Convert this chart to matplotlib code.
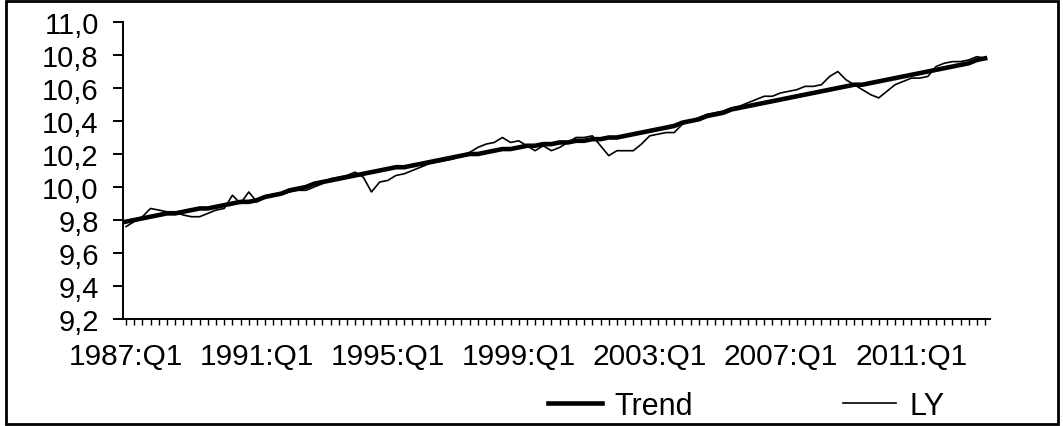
import matplotlib
matplotlib.use("Agg")
import matplotlib.pyplot as plt
from matplotlib.patches import Rectangle

# quarterly sample, 1987:Q1 - 2013:Q2
first_year = 1987
n_obs = 106

# HP trend of log output
trend = [
    9.79, 9.80, 9.81, 9.82,
    9.83, 9.84, 9.84, 9.85,
    9.86, 9.87, 9.87, 9.88,
    9.89, 9.90, 9.91, 9.91,
    9.92, 9.94, 9.95, 9.96,
    9.98, 9.99, 10.00, 10.02,
    10.03, 10.04, 10.05, 10.06,
    10.07, 10.08, 10.09, 10.10,
    10.11, 10.12, 10.12, 10.13,
    10.14, 10.15, 10.16, 10.17,
    10.18, 10.19, 10.20, 10.20,
    10.21, 10.22, 10.23, 10.23,
    10.24, 10.25, 10.25, 10.26,
    10.26, 10.27, 10.27, 10.28,
    10.28, 10.29, 10.29, 10.30,
    10.30, 10.31, 10.32, 10.33,
    10.34, 10.35, 10.36, 10.37,
    10.39, 10.40, 10.41, 10.43,
    10.44, 10.45, 10.47, 10.48,
    10.49, 10.50, 10.51, 10.52,
    10.53, 10.54, 10.55, 10.56,
    10.57, 10.58, 10.59, 10.60,
    10.61, 10.62, 10.62, 10.63,
    10.64, 10.65, 10.66, 10.67,
    10.68, 10.69, 10.70, 10.71,
    10.72, 10.73, 10.74, 10.75,
    10.77, 10.78,
]

# log output (LY)
ly = [
    9.76, 9.79, 9.82, 9.87,
    9.86, 9.85, 9.85, 9.83,
    9.82, 9.82, 9.84, 9.86,
    9.87, 9.95, 9.90, 9.97,
    9.91, 9.94, 9.95, 9.96,
    9.97, 9.98, 9.98, 10.00,
    10.02, 10.05, 10.06, 10.07,
    10.09, 10.06, 9.97, 10.03,
    10.04, 10.07, 10.08, 10.10,
    10.12, 10.14, 10.15, 10.16,
    10.17, 10.19, 10.21, 10.24,
    10.26, 10.27, 10.30, 10.27,
    10.28, 10.25, 10.22, 10.25,
    10.22, 10.24, 10.27, 10.30,
    10.30, 10.31, 10.25, 10.19,
    10.22, 10.22, 10.22, 10.26,
    10.31, 10.32, 10.33, 10.33,
    10.38, 10.40, 10.42, 10.44,
    10.45, 10.46, 10.48, 10.49,
    10.51, 10.53, 10.55, 10.55,
    10.57, 10.58, 10.59, 10.61,
    10.61, 10.62, 10.67, 10.70,
    10.65, 10.62, 10.59, 10.56,
    10.54, 10.58, 10.62, 10.64,
    10.66, 10.66, 10.67, 10.73,
    10.75, 10.76, 10.76, 10.77,
    10.79, 10.78,
]

y_ticks = [9.2, 9.4, 9.6, 9.8, 10.0, 10.2, 10.4, 10.6, 10.8, 11.0]
label_every = 16

plt.rcParams['font.family'] = ['Liberation Sans', 'DejaVu Sans']

fig = plt.figure(figsize=(10.63, 4.27), dpi=100)
ax = fig.add_axes([0.1157, 0.2506, 0.8156, 0.6955])

idx = list(range(n_obs))
ax.plot(idx, trend, color='black', lw=3.3, label='Trend')
ax.plot(idx, ly, color='black', lw=1.2, label='LY')

ax.set_ylim(9.2, 11.0)
ax.set_xlim(-0.37, 105.6)
ax.set_yticks(y_ticks)
ax.set_yticklabels([f"{v:.1f}".replace('.', ',') for v in y_ticks])

xlabels = []
for i in idx:
    if i % label_every == 0:
        xlabels.append(f"{first_year + i // 4}:Q{i % 4 + 1}")
    else:
        xlabels.append("")
ax.set_xticks(idx)
ax.set_xticklabels(xlabels)

for s in ['top', 'right']:
    ax.spines[s].set_visible(False)
for s in ['left', 'bottom']:
    ax.spines[s].set_linewidth(1.4)

ax.tick_params(axis='y', direction='out', length=7, width=1.4, pad=10.5, labelsize=21)
ax.tick_params(axis='x', direction='out', length=4.3, width=1.0, pad=12, labelsize=21.5)

fig.legend(loc='center', bbox_to_anchor=(0.702, 0.047), ncol=2, frameon=False,
           fontsize=22, handlelength=1.75, handletextpad=0.42, columnspacing=4.9)

# frame round the whole figure
fig.patches.append(Rectangle((6 / 1063, 2 / 427), 1052 / 1063, 423 / 427,
                             transform=fig.transFigure, fill=False,
                             edgecolor='black', lw=2.0))

fig.savefig('out.png', dpi=100)
